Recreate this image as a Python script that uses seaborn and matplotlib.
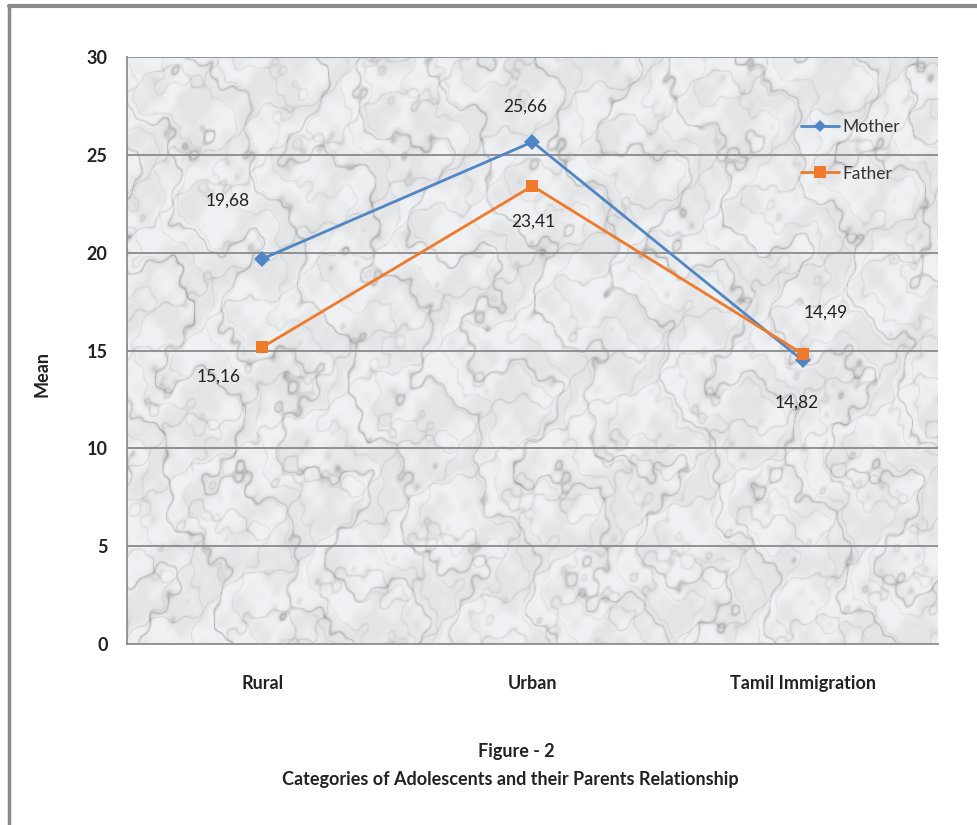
import numpy as np
import pandas as pd
import matplotlib
matplotlib.use("Agg")
import matplotlib.pyplot as plt
from matplotlib.lines import Line2D
import seaborn as sns

# Data
categories = ["Rural", "Urban", "Tamil Immigration"]
mother = [19.68, 25.66, 14.49]
father = [15.16, 23.41, 14.82]
series_names = ["Mother", "Father"]
y_ticks = [0, 5, 10, 15, 20, 25, 30]

df = pd.DataFrame({
    "Category": categories * 2,
    "Mean": mother + father,
    "Parent": [series_names[0]] * 3 + [series_names[1]] * 3,
})

sns.set_theme(style="white")
plt.rcParams["font.family"] = ["Lato", "DejaVu Sans"]

fig = plt.figure(figsize=(9.77, 8.25), dpi=100)
fig.patch.set_facecolor("white")
ax = fig.add_axes([0.130, 0.2194, 0.830, 0.7115])

# Marble-like backdrop for the plot area: light stone with slanted grey veins
h, w = 590, 810
yy, xx = np.mgrid[0:h, 0:w] / 40.0
turb = (np.sin(0.9 * xx + 1.7 * yy) * 0.8 + np.sin(2.3 * xx - 0.9 * yy + 1.0) * 0.5
        + np.sin(4.1 * xx + 3.3 * yy + 2.0) * 0.3 + np.sin(7.9 * xx - 6.1 * yy + 0.5) * 0.18
        + np.sin(12.7 * xx + 10.3 * yy + 1.7) * 0.1)
veins = np.abs(np.sin(1.6 * xx - 0.75 * yy + 1.3 * turb))
veins2 = np.abs(np.sin(0.9 * xx + 1.9 * yy + 1.1 * turb + 0.7))
veins3 = np.abs(np.sin(3.3 * xx - 1.4 * yy + 2.0 * turb + 1.9))
shade = (0.93 - 0.20 * (1 - veins) ** 12 - 0.12 * (1 - veins2) ** 16
         - 0.08 * (1 - veins3) ** 10 + 0.025 * np.sin(3 * turb))
shade = np.clip(shade, 0, 1)
rgb = np.dstack([shade * 0.985, shade * 0.99, shade])
ax.imshow(rgb, extent=[0, 1, 0, 1], transform=ax.transAxes, aspect="auto",
          zorder=0, interpolation="bilinear")

palette = {"Mother": "#5186c6", "Father": "#ef7a2a"}
sns.lineplot(data=df, x="Category", y="Mean", hue="Parent", style="Parent",
             markers={"Mother": "D", "Father": "s"}, dashes=False,
             palette=palette, linewidth=2.0, markersize=8, markeredgewidth=0,
             ax=ax, zorder=3, sort=False)

ax.set_xlim(-0.5, 2.5)
ax.set_ylim(0, 30)
ax.set_yticks(y_ticks)
ax.set_yticklabels([str(t) for t in y_ticks], fontsize=13, fontweight="bold", color="#222222")
ax.set_xticks(range(len(categories)))
ax.set_xticklabels(categories, fontsize=13, fontweight="bold", color="#222222")
ax.set_xticks([-0.5, 0.5, 1.5, 2.5], minor=True)
ax.tick_params(axis="x", which="major", length=0, pad=22)
ax.tick_params(axis="x", which="minor", length=8, color="#8c8c8c", width=1.2, direction="out")
ax.tick_params(axis="y", which="major", length=6, color="#8c8c8c", width=1.2, direction="out", pad=8)

for t in y_ticks[1:]:
    ax.axhline(t, color="#8a8a8a", linewidth=1.3, zorder=1)

for side in ["top", "right"]:
    ax.spines[side].set_visible(False)
for side in ["left", "bottom"]:
    ax.spines[side].set_color("#8c8c8c")
    ax.spines[side].set_linewidth(1.3)

ax.set_xlabel("")
ax.set_ylabel("Mean", fontsize=13, fontweight="bold", color="#222222")
ax.yaxis.set_label_coords(-0.094, 0.46)

# Value labels
mother_offsets = [(-34, 58), (-7, 35), (23, 48)]
father_offsets = [(-44, -29), (1, -36), (-6, -49)]
for i, (v, off) in enumerate(zip(mother, mother_offsets)):
    ax.annotate(f"{v:.2f}".replace(".", ","), (i, v), xytext=off, textcoords="offset pixels",
                ha="center", va="center", fontsize=12.5, color="#222222", zorder=5)
for i, (v, off) in enumerate(zip(father, father_offsets)):
    ax.annotate(f"{v:.2f}".replace(".", ","), (i, v), xytext=off, textcoords="offset pixels",
                ha="center", va="center", fontsize=12.5, color="#222222", zorder=5)

# Legend
handles = [Line2D([0], [0], color=palette["Mother"], marker="D", markersize=6, lw=2, markeredgewidth=0),
           Line2D([0], [0], color=palette["Father"], marker="s", markersize=8, lw=2, markeredgewidth=0)]
leg = ax.legend(handles, series_names, loc="upper left", bbox_to_anchor=(0.822, 0.906),
                frameon=False, fontsize=12.5, handlelength=2.2, handletextpad=0.2,
                labelspacing=1.75, borderaxespad=0)
for txt in leg.get_texts():
    txt.set_color("#333333")

# Caption
fig.text(0.528, 1 - 752 / 825, "Figure - 2", ha="center", va="center",
         fontsize=13, fontweight="bold", color="#222222")
fig.text(0.522, 1 - 780 / 825, "Categories of Adolescents and their Parents Relationship",
         ha="center", va="center", fontsize=13, fontweight="bold", color="#222222")

# Frame around the chart
fig.add_artist(Line2D([9 / 977, 9 / 977], [0, 1 - 6 / 825], transform=fig.transFigure,
                      color="#8a8a8a", linewidth=2.5))
fig.add_artist(Line2D([9 / 977, 1], [1 - 6 / 825, 1 - 6 / 825], transform=fig.transFigure,
                      color="#8a8a8a", linewidth=3))

fig.savefig("out.png", dpi=100, facecolor="white")
